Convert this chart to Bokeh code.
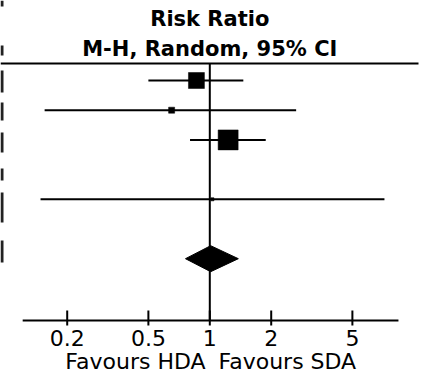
from bokeh.plotting import figure
from bokeh.models import Range1d, ColumnDataSource
from bokeh.core.properties import value
from bokeh.embed import file_html
from bokeh.resources import INLINE
import numpy as np

# ---- data (risk ratios, M-H random, 95% CI) ----
study_rows = [0, 1, 2, 4]
study_rr = [0.86, 0.65, 1.23, 1.03]
study_lo = [0.50, 0.155, 0.80, 0.148]
study_hi = [1.46, 2.65, 1.88, 7.18]
study_weight = [36.4, 5.2, 57.0, 1.4]

pooled_row = 6
pooled_rr = 1.01
pooled_lo = 0.76
pooled_hi = 1.38

tick_values = [0.2, 0.5, 1, 2, 5]
tick_labels = ["0.2", "0.5", "1", "2", "5"]
header_lines = ["Risk Ratio", "M-H, Random, 95% CI"]
favours_left = "Favours HDA"
favours_right = "Favours SDA"

# ---- layout (pixel-like y units, top = 0) ----
W, H = 423, 373
row_top, row_pitch = 80.0, 29.7
rule_y = 63.0
axis_y = 320.0
axis_lo, axis_hi = 0.121, 8.41
diamond_half = 13.0
size_per_sqrt_w = 2.65

def row_y(r):
    return row_top + r * row_pitch

p = figure(width=W, height=H, x_axis_type="log",
           x_range=Range1d(0.0942, 11.157), y_range=Range1d(H, 0),
           x_axis_location=None, y_axis_location=None,
           output_backend="svg", toolbar_location=None,
           min_border=0, min_border_left=0, min_border_right=0,
           min_border_top=0, min_border_bottom=0)
p.outline_line_color = None
p.xgrid.visible = False
p.ygrid.visible = False
p.background_fill_color = "white"
p.border_fill_color = "white"

xmin, xmax = p.x_range.start, p.x_range.end

def px_to_x(px):
    return 10 ** (np.log10(xmin) + (px / W) * (np.log10(xmax) - np.log10(xmin)))

# header rule
p.segment(x0=[xmin], y0=[rule_y], x1=[px_to_x(418)], y1=[rule_y],
          line_color="black", line_width=2)

# cut-off fragments of the table column at left edge
frag_y0 = [0, 45, 70, 102, 132, 168, 192, 240]
frag_y1 = [6, 55, 92, 120, 152, 180, 222, 262]
p.quad(left=[xmin] * len(frag_y0), right=[px_to_x(3)] * len(frag_y0),
       top=frag_y0, bottom=frag_y1, fill_color="#222222", line_color=None)

# line of no effect
p.segment(x0=[1], y0=[rule_y], x1=[1], y1=[axis_y], line_color="black", line_width=2)

# study CIs and squares
ys = [row_y(r) for r in study_rows]
src = ColumnDataSource(dict(rr=study_rr, lo=study_lo, hi=study_hi, y=ys,
                            size=[size_per_sqrt_w * np.sqrt(w) for w in study_weight]))
p.segment(x0="lo", y0="y", x1="hi", y1="y", source=src, line_color="black", line_width=2)
p.scatter(x="rr", y="y", size="size", marker="square", source=src,
          fill_color="black", line_color="black", line_width=0.5)

# pooled diamond
py = row_y(pooled_row)
p.patch(x=[pooled_lo, pooled_rr, pooled_hi, pooled_rr],
        y=[py, py - diamond_half, py, py + diamond_half],
        fill_color="black", line_color="black", line_width=1)

# axis
p.segment(x0=[axis_lo], y0=[axis_y], x1=[axis_hi], y1=[axis_y], line_color="black", line_width=2)
p.segment(x0=tick_values, y0=[axis_y - 10] * len(tick_values), x1=tick_values,
          y1=[axis_y + 5] * len(tick_values), line_color="black", line_width=2)
p.text(x=tick_values, y=[axis_y + 17] * len(tick_values), text=tick_labels,
       text_align="center", text_baseline="alphabetic",
       text_font=value("DejaVu Sans"), text_font_size="22px", text_color="black")

p.text(x=[0.432, 2.40], y=[361, 361], text=[favours_left, favours_right],
       text_align="center", text_baseline="alphabetic",
       text_font=value("DejaVu Sans"), text_font_size="22px", text_color="black")

# header
p.text(x=[1.0, 1.0], y=[18, 48], text=header_lines,
       text_align="center", text_baseline="alphabetic",
       text_font=value("DejaVu Sans"), text_font_style="bold",
       text_font_size="21px", text_color="black")

open("out.html", "w").write(file_html(p, INLINE))
